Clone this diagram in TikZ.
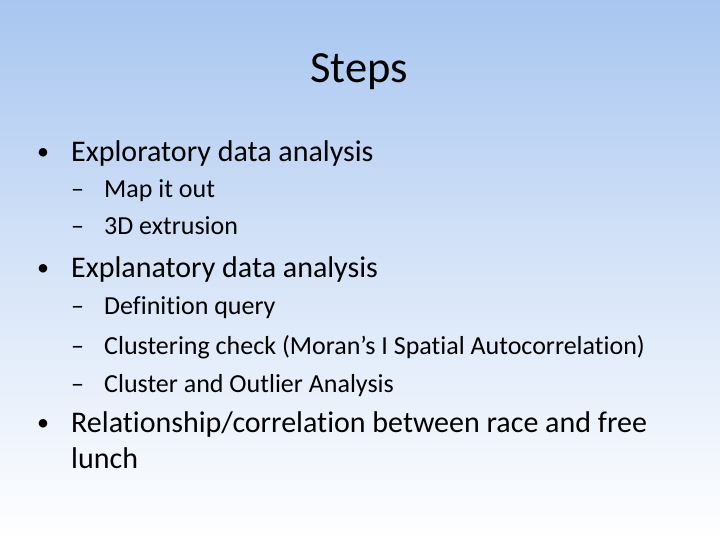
\documentclass[tikz,border=0pt]{standalone}
\usepackage{fontspec}
\setmainfont[Ligatures=NoCommon]{Carlito}
\begin{document}
\begin{tikzpicture}[x=1pt,y=-1pt,
  l1/.style={anchor=base west,font=\fontsize{30}{34}\selectfont,inner sep=0},
  bm/.style={anchor=base west,font=\fontsize{24}{28}\selectfont,inner sep=0},
  l2/.style={anchor=base west,font=\fontsize{26}{29}\selectfont,inner sep=0}]
\shade[top color={rgb,255:red,168;green,198;blue,240},bottom color=white,middle color={rgb,255:red,214;green,228;blue,248}] (0,0) rectangle (720,540);
\useasboundingbox (0,0) rectangle (720,540);
\node[anchor=base,font=\fontsize{44.5}{48}\selectfont,inner sep=0] (title) at (359,83) {Steps};
\node[bm] (b1m) at (37,160) {•}; \node[l1] (b1) at (71,162) {Exploratory data analysis};
\node[l2] (s1m) at (71,197) {–}; \node[l2] (s1) at (104,197) {Map it out};
\node[l2] (s2m) at (71,235) {–}; \node[l2] (s2) at (104,235) {3D extrusion};
\node[bm] (b2m) at (37,275) {•}; \node[l1] (b2) at (71,277) {Explanatory data analysis};
\node[l2] (s3m) at (71,314) {–}; \node[l2] (s3) at (104,314) {Definition query};
\node[l2] (s4m) at (71,354) {–}; \node[l2] (s4) at (104,354) {Clustering check (Moran’s I Spatial Autocorrelation)};
\node[l2] (s5m) at (71,392) {–}; \node[l2] (s5) at (104,392) {Cluster and Outlier Analysis};
\node[bm] (b3m) at (37,430) {•}; \node[l1] (b3) at (71,432) {Relationship/correlation between race and free};
\node[l1] (b3b) at (71,468) {lunch};
\end{tikzpicture}
\end{document}
